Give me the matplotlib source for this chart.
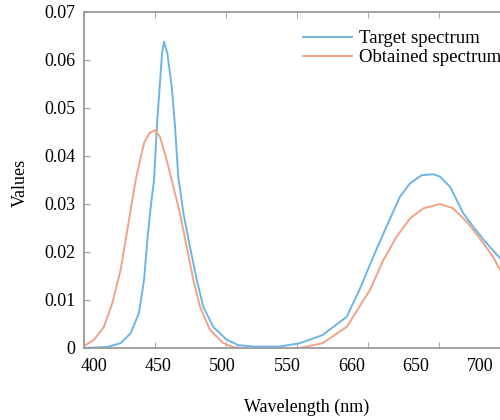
import matplotlib
matplotlib.use("Agg")
import matplotlib.pyplot as plt
import numpy as np

# Spectra (wavelength in nm, relative values)
WL_TARGET = [400, 408, 416, 425.8, 432.9, 438.7, 442.3, 444.6, 447, 449.3, 451.6,
             455, 456.3, 458.7, 461.8, 464.1, 466.4, 470, 474.6, 479.4, 484, 491,
             500.5, 508.7, 520, 538, 552, 568, 585, 594.4, 603.7, 613, 622.5,
             629.6, 637.8, 646, 650.7, 657.7, 662.5, 667, 674, 683.6, 693, 705, 720]
TARGET = [0.0, 0.0001, 0.0002, 0.001, 0.0031, 0.0073, 0.0142, 0.0225, 0.0294, 0.035,
          0.0475, 0.0615, 0.0638, 0.0614, 0.0544, 0.0461, 0.0357, 0.0281, 0.0211,
          0.0142, 0.0086, 0.0044, 0.0017, 0.0006, 0.0003, 0.0003, 0.001, 0.0027,
          0.0065, 0.0124, 0.019, 0.0253, 0.0315, 0.0343, 0.036, 0.0362, 0.0357,
          0.0336, 0.0308, 0.0281, 0.0253, 0.0218, 0.0187, 0.014, 0.009]

WL_OBTAINED = [400, 401, 407, 414, 420, 425.8, 430.5, 436.4, 437.5, 442.3, 446,
               449.8, 453.5, 458.2, 462.9, 467.6, 472.3, 477, 481.7, 488.7, 498,
               505, 520, 540, 552, 568, 585, 601.4, 610.8, 620.2, 629.6, 639,
               650.7, 660, 669.5, 678.9, 688, 693, 705, 720]
OBTAINED = [0.0004, 0.0006, 0.0017, 0.0044, 0.0094, 0.0163, 0.0246, 0.035, 0.0365,
            0.0427, 0.0447, 0.0454, 0.044, 0.0392, 0.0336, 0.0281, 0.0211, 0.0142,
            0.0086, 0.0038, 0.001, 0.0002, -0.0002, -0.0003, 0.0, 0.001, 0.0044,
            0.0121, 0.0183, 0.0232, 0.027, 0.0291, 0.030, 0.0291, 0.0263, 0.0228,
            0.019, 0.0163, 0.0105, 0.005]

X_TICKS = [400, 450, 500, 550, 600, 650, 700]
X_TICK_LABELS = ["400", "450", "500", "550", "660", "650", "700"]
Y_TICKS = [0, 0.01, 0.02, 0.03, 0.04, 0.05, 0.06, 0.07]
Y_TICK_LABELS = ["0", "0.01", "0.02", "0.03", "0.04", "0.05", "0.06", "0.07"]

BLUE = "#6DB5E6"
ORANGE = "#F2A285"
GREY = "#9A9A9A"

plt.rcParams["font.family"] = ["Liberation Serif", "DejaVu Serif"]

fig = plt.figure(figsize=(5.0, 4.2), dpi=100)
# axes runs past the right edge of the figure, like the cropped original
ax = fig.add_axes([84 / 500, 72 / 420, 497 / 500, 336 / 420])

ax.plot(WL_TARGET, TARGET, color=BLUE, lw=1.4, label="Target spectrum")
ax.plot(WL_OBTAINED, OBTAINED, color=ORANGE, lw=1.4, label="Obtained spectrum")

ax.set_xlim(400, 750)
ax.set_ylim(0, 0.07)

# tick marks on the real grid, labels squeezed as in the source image
ax.set_xticks(X_TICKS, minor=True)
ax.set_xticks(np.linspace(407, 679, len(X_TICK_LABELS)))
ax.set_xticklabels(X_TICK_LABELS, fontsize=13)
ax.tick_params(axis="x", which="major", length=0, pad=7)
ax.tick_params(axis="x", which="minor", direction="in", length=4, top=True,
               bottom=True, color=GREY)
ax.set_yticks(Y_TICKS)
ax.set_yticklabels(Y_TICK_LABELS, fontsize=13)
ax.tick_params(axis="y", direction="in", length=4, color=GREY, pad=6)

for spine in ax.spines.values():
    spine.set_color(GREY)
    spine.set_linewidth(1.3)

ax.set_ylabel("Values", fontsize=13)
ax.yaxis.set_label_coords(-(84 - 29) / 497, 0.49)
ax.set_xlabel("Wavelength (nm)", fontsize=13)
ax.xaxis.set_label_coords((307 - 84) / 497, -(399 - 348) / 336)

ax.legend(loc="upper left", bbox_to_anchor=(303 / 500, 1 - 30 / 420),
          bbox_transform=fig.transFigure, frameon=False, fontsize=13.5,
          handlelength=2.6, handletextpad=0.4, labelspacing=0.12,
          borderpad=0, borderaxespad=0)

fig.savefig("out.png", dpi=100)
